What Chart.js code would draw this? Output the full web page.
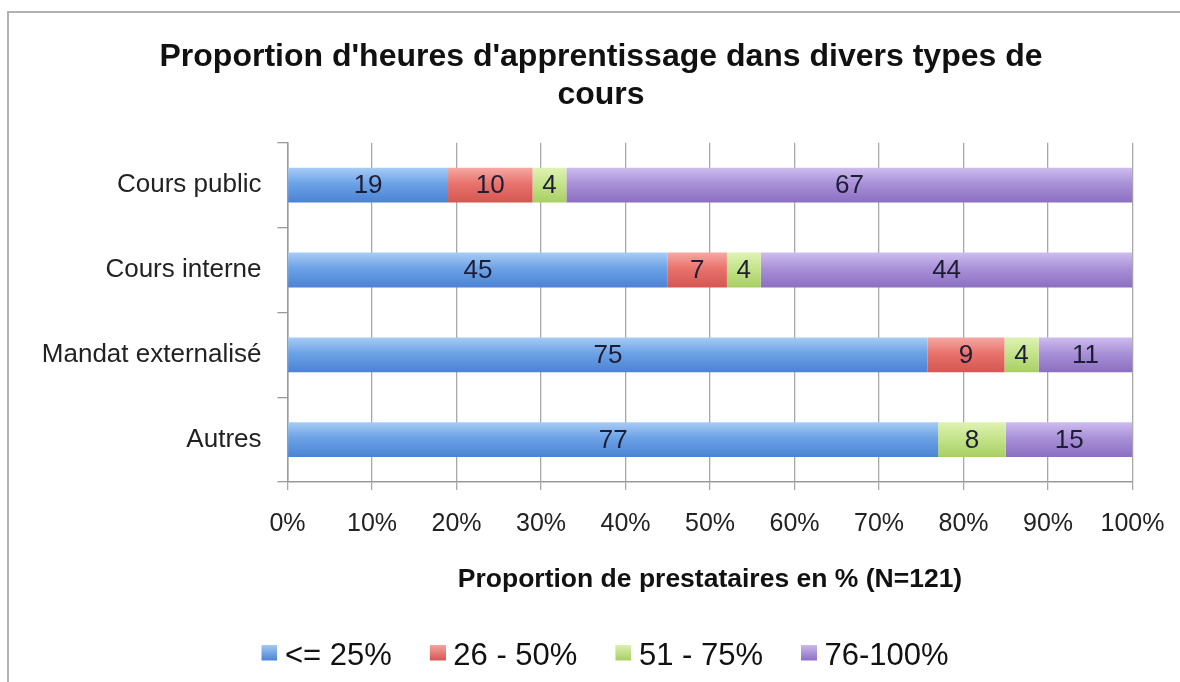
<!DOCTYPE html>
<html>
<head>
<meta charset="utf-8">
<script src="https://cdn.jsdelivr.net/npm/chart.js@4"></script>
<style>
  html, body { margin: 0; padding: 0; background: #fff; }
  #wrap { position: relative; width: 1180px; height: 682px; overflow: hidden; }
  #frame { position: absolute; left: 7px; top: 11px; width: 1300px; height: 800px;
           border-left: 2px solid #b2b2b2; border-top: 2px solid #b2b2b2; }
  #chart { position: absolute; left: 0; top: 0; }
</style>
</head>
<body>
<div id="wrap">
  <div id="frame"></div>
  <canvas id="chart" width="1180" height="682"></canvas>
</div>
<script>
// categories (y axis)
const categories = ['Cours public', 'Cours interne', 'Mandat externalisé', 'Autres'];

// series: number shown in each segment (the chart is 100 % stacked)
const le25 = [19, 45, 75, 77];
const r26to50 = [10, 7, 9, 0];
const r51to75 = [4, 4, 4, 8];
const r76to100 = [67, 44, 11, 15];

const seriesNames = ['<= 25%', '26 - 50%', '51 - 75%', '76-100%'];
const xTicks = [0, 10, 20, 30, 40, 50, 60, 70, 80, 90, 100];

const FONT = '"Liberation Sans", Arial, Helvetica, sans-serif';

// colours: light top, mid, dark bottom
const palette = [
  ['#a6cbf5', '#6ca2e6', '#4c83d4'],
  ['#f5a7a1', '#e9736d', '#d45752'],
  ['#def2b2', '#c5e48c', '#a8cf63'],
  ['#cdbbee', '#a991d8', '#8c6fc2'],
];

const padL = 30, padR = 8;

const allSeries = [le25, r26to50, r51to75, r76to100];
const totals = categories.map((c, i) => allSeries.reduce((s, arr) => s + arr[i], 0));
const pct = arr => arr.map((v, i) => v / totals[i] * 100);

function barFill(idx) {
  return function (ctx) {
    const chart = ctx.chart;
    const y = chart.scales && chart.scales.y;
    if (!chart.chartArea || !y || ctx.type !== 'data') return palette[idx][1];
    const cy = y.getPixelForValue(ctx.dataIndex);
    const g = chart.ctx.createLinearGradient(0, cy - 17, 0, cy + 17);
    g.addColorStop(0, palette[idx][0]);
    g.addColorStop(0.45, palette[idx][1]);
    g.addColorStop(1, palette[idx][2]);
    return g;
  };
}

// legend marker: small square sitting close to its text
function swatch(idx) {
  const c = document.createElement('canvas');
  c.width = 32; c.height = 24;
  const g = c.getContext('2d');
  const grad = g.createLinearGradient(0, 0, 0, 16);
  grad.addColorStop(0, palette[idx][0]);
  grad.addColorStop(1, palette[idx][2]);
  g.fillStyle = grad;
  g.fillRect(16, 0, 16, 16);
  return c;
}

// numbers inside the segments
const segmentLabels = {
  id: 'segmentLabels',
  afterDatasetsDraw(chart) {
    const ctx = chart.ctx;
    ctx.save();
    ctx.font = '26px ' + FONT;
    ctx.fillStyle = '#1d1d35';
    ctx.textAlign = 'center';
    ctx.textBaseline = 'middle';
    chart.data.datasets.forEach((ds, di) => {
      const meta = chart.getDatasetMeta(di);
      meta.data.forEach((bar, i) => {
        const v = allSeries[di][i];
        if (!v) return;
        ctx.fillText(String(v), (bar.x + bar.base) / 2, bar.y + 1);
      });
    });
    ctx.restore();
  }
};

new Chart(document.getElementById('chart'), {
  type: 'bar',
  data: {
    labels: categories,
    datasets: allSeries.map((arr, i) => ({
      label: seriesNames[i],
      data: pct(arr),
      backgroundColor: barFill(i),
      borderWidth: 0,
      barPercentage: 0.41,
      categoryPercentage: 1,
    })),
  },
  options: {
    indexAxis: 'y',
    responsive: false,
    animation: false,
    layout: { padding: { left: padL, right: padR, top: 0, bottom: 0 } },
    plugins: {
      tooltip: { enabled: false },
      title: {
        display: true,
        text: ["Proportion d'heures d'apprentissage dans divers types de", 'cours'],
        color: '#111',
        font: { family: FONT, size: 32, weight: 'bold', lineHeight: 1.2 },
        padding: { top: 38, bottom: 28 },
      },
      legend: {
        position: 'bottom',
        labels: {
          color: '#111',
          font: { family: FONT, size: 31 },
          boxWidth: 16,
          boxHeight: 16,
          padding: 30,
          usePointStyle: true,
          generateLabels(chart) {
            const items = Chart.defaults.plugins.legend.labels.generateLabels(chart);
            items.forEach((it, i) => { it.pointStyle = swatch(i); it.lineWidth = 0; });
            return items;
          },
        },
      },
    },
    scales: {
      x: {
        stacked: true,
        min: 0,
        max: 100,
        afterBuildTicks(scale) { scale.ticks = xTicks.map(v => ({ value: v })); },
        afterFit(scale) { scale.height = 129; },
        ticks: {
          color: '#222',
          font: { family: FONT, size: 25, lineHeight: 2 },
          padding: 9,
          callback: v => v + '%',
        },
        grid: { color: '#a8a8a8', lineWidth: 1.3, tickLength: 8 },
        border: { color: '#9a9a9a', width: 1.5 },
        title: {
          display: true,
          text: 'Proportion de prestataires en % (N=121)',
          color: '#111',
          font: { family: FONT, size: 26.5, weight: 'bold', lineHeight: 1.2 },
          padding: { top: 0, bottom: 15 },
        },
      },
      y: {
        stacked: true,
        afterFit(scale) { scale.width = 287.5 - padL; },
        ticks: {
          color: '#222',
          font: { family: FONT, size: 26 },
          padding: 16,
        },
        grid: { drawOnChartArea: false, color: '#9a9a9a', tickLength: 10, lineWidth: 1.3 },
        border: { color: '#9a9a9a', width: 1.5 },
      },
      spacer: {
        type: 'category',
        axis: 'y',
        position: 'right',
        labels: categories,
        afterFit(scale) { scale.width = 1180 - padR - 1132.5; },
        ticks: { display: false },
        grid: { display: false },
        border: { display: false },
      },
    },
  },
  plugins: [segmentLabels],
});
</script>
</body>
</html>
